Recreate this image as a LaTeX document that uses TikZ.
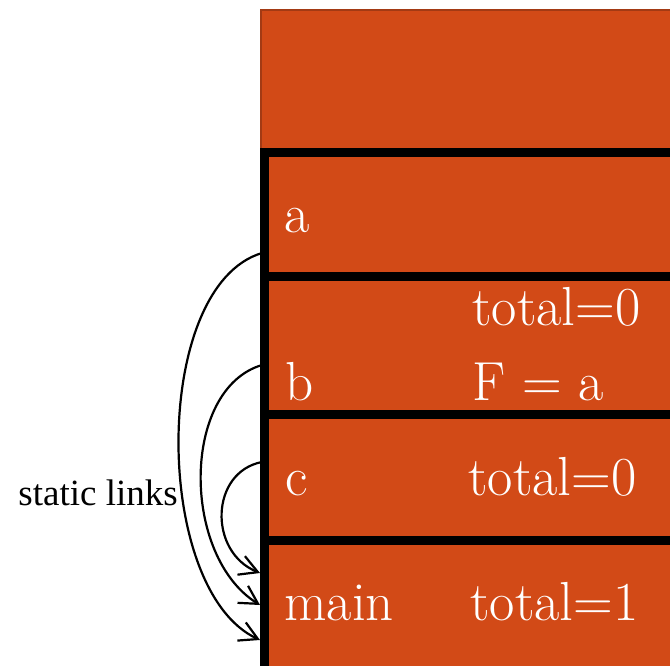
\documentclass[tikz,border=0pt]{standalone}
\usepackage{fontspec}
\newfontfamily\linkfont{Liberation Serif}
\usepackage{tikz}
\usetikzlibrary{arrows.meta}
\definecolor{stackorange}{HTML}{D24A17}
\definecolor{stackrim}{HTML}{A33A14}

\begin{document}
\begin{tikzpicture}[x=0.5pt,y=-0.5pt,
    varlabel/.style={anchor=base west,inner sep=0pt,text=white,font=\fontsize{27.5}{31}\selectfont},
    framerule/.style={line width=4.5pt},
    staticlink/.style={line width=1.1pt,-{Straight Barb[length=9pt,width=10pt,line width=1.1pt]}}]
            \useasboundingbox (0,0) rectangle (670,665);
            \clip (0,0) rectangle (670,665);
            \coordinate (TL) at (260.5,9.5);
            \coordinate (BR) at (690,690);
            \coordinate (A0) at (264.5,152.5);
            \coordinate (AB) at (264.5,276.5);
            \coordinate (BC) at (264.5,414);
            \coordinate (CM) at (264.5,540.5);
            \coordinate (M1) at (264.5,680);
            \coordinate (SA) at (262,253);
            \coordinate (SB) at (262,365);
            \coordinate (SC) at (262,462);
            \coordinate (EA) at (260,640);
            \coordinate (EB) at (260,605);
            \coordinate (EC) at (260,573);
            \fill[stackorange,draw=stackrim,line width=1pt] (TL) rectangle (BR);
            \draw[framerule] (A0 -| BR) -- (A0) -- (M1);
            \draw[framerule] (AB) -- (AB -| BR);
            \draw[framerule] (BC) -- (BC -| BR);
            \draw[framerule] (CM) -- (CM -| BR);
            \node[varlabel] (a) at (284,232) {a};
            \node[varlabel] (btotal) at (472,325) {total=0};
            \node[varlabel] (b) at (285,400) {b};
            \node[varlabel] (bF) at (472,400) {F = a};
            \node[varlabel] (c) at (285,495) {c};
            \node[varlabel] (ctotal) at (468,495) {total=0};
            \node[varlabel] (main) at (284,620) {main};
            \node[varlabel] (mtotal) at (470,620) {total=1};
            \node[anchor=base west,inner sep=0pt,font=\linkfont\fontsize{18.5}{22}\selectfont] (links) at (18,505) {static links};
            \draw[staticlink] (SA) .. controls (151,286) and (152,590) .. (EA);
            \draw[staticlink] (SB) .. controls (181,389) and (181,556) .. (EB);
            \draw[staticlink] (SC) .. controls (210,472) and (208,552) .. (EC);
        \end{tikzpicture}
\end{document}
